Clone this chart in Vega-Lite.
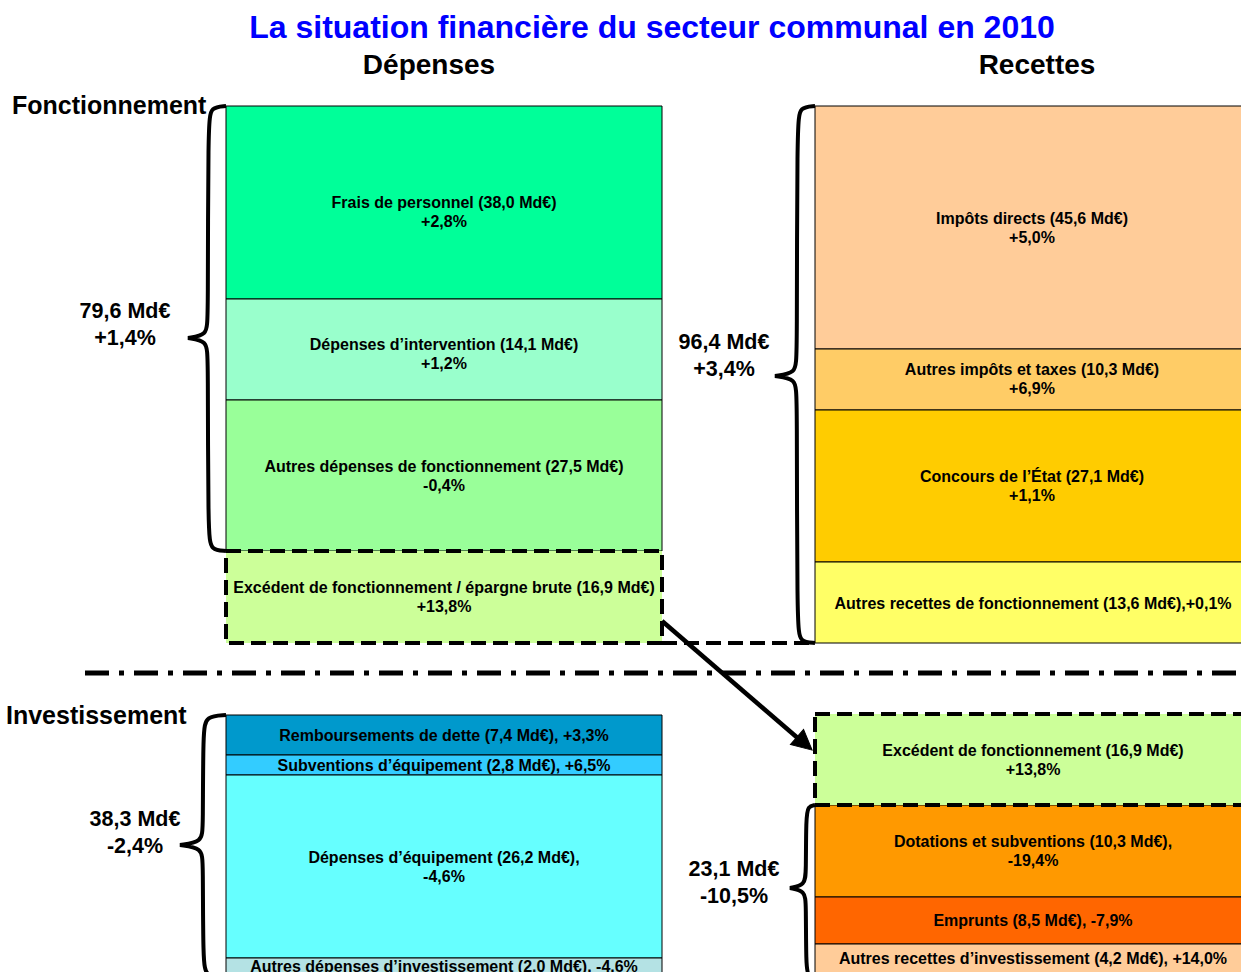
{
  "$schema": "https://vega.github.io/schema/vega-lite/v6.json",
  "width": 1241,
  "height": 972,
  "padding": 0,
  "autosize": {"type": "none"},
  "background": "white",
  "config": {"view": {"stroke": null}, "font": "Liberation Sans"},
  "datasets": {
    "blocks": [
      {"name": "Frais de personnel", "x1": 226, "x2": 662, "y1": 106, "y2": 299, "color": "#00FF99", "dashed": false, "label": "Frais de personnel (38,0 Md€)\n+2,8%", "tx": 444, "ty": 203},
      {"name": "Dépenses d’intervention", "x1": 226, "x2": 662, "y1": 299, "y2": 400, "color": "#99FFCC", "dashed": false, "label": "Dépenses d’intervention (14,1 Md€)\n+1,2%", "tx": 444, "ty": 345},
      {"name": "Autres dépenses de fonctionnement", "x1": 226, "x2": 662, "y1": 400, "y2": 551, "color": "#99FF99", "dashed": false, "label": "Autres dépenses de fonctionnement (27,5 Md€)\n-0,4%", "tx": 444, "ty": 467},
      {"name": "Excédent de fonctionnement / épargne brute", "x1": 226, "x2": 662, "y1": 551, "y2": 643, "color": "#CCFF99", "dashed": true, "label": "Excédent de fonctionnement / épargne brute (16,9 Md€)\n+13,8%", "tx": 444, "ty": 588},
      {"name": "Impôts directs", "x1": 815, "x2": 1250, "y1": 106, "y2": 349, "color": "#FFCC99", "dashed": false, "label": "Impôts directs (45,6 Md€)\n+5,0%", "tx": 1032, "ty": 219},
      {"name": "Autres impôts et taxes", "x1": 815, "x2": 1250, "y1": 349, "y2": 410, "color": "#FFCC66", "dashed": false, "label": "Autres impôts et taxes (10,3 Md€)\n+6,9%", "tx": 1032, "ty": 370},
      {"name": "Concours de l’État", "x1": 815, "x2": 1250, "y1": 410, "y2": 562, "color": "#FFCC00", "dashed": false, "label": "Concours de l’État (27,1 Md€)\n+1,1%", "tx": 1032, "ty": 477},
      {"name": "Autres recettes de fonctionnement", "x1": 815, "x2": 1250, "y1": 562, "y2": 643, "color": "#FFFF66", "dashed": false, "label": "Autres recettes de fonctionnement (13,6 Md€),+0,1%", "tx": 1033, "ty": 604},
      {"name": "Remboursements de dette", "x1": 226, "x2": 662, "y1": 715, "y2": 755, "color": "#0099CC", "dashed": false, "label": "Remboursements de dette (7,4 Md€), +3,3%", "tx": 444, "ty": 736},
      {"name": "Subventions d’équipement", "x1": 226, "x2": 662, "y1": 755, "y2": 775, "color": "#33CCFF", "dashed": false, "label": "Subventions d’équipement (2,8 Md€), +6,5%", "tx": 444, "ty": 766},
      {"name": "Dépenses d’équipement", "x1": 226, "x2": 662, "y1": 775, "y2": 958, "color": "#66FFFF", "dashed": false, "label": "Dépenses d’équipement (26,2 Md€),\n-4,6%", "tx": 444, "ty": 858},
      {"name": "Autres dépenses d’investissement", "x1": 226, "x2": 662, "y1": 958, "y2": 1000, "color": "#B4E2E4", "dashed": false, "label": "Autres dépenses d’investissement (2,0 Md€), -4,6%", "tx": 444, "ty": 967},
      {"name": "Excédent de fonctionnement", "x1": 815, "x2": 1250, "y1": 714, "y2": 805, "color": "#CCFF99", "dashed": true, "label": "Excédent de fonctionnement (16,9 Md€)\n+13,8%", "tx": 1033, "ty": 751},
      {"name": "Dotations et subventions", "x1": 815, "x2": 1250, "y1": 805, "y2": 897, "color": "#FF9900", "dashed": false, "label": "Dotations et subventions (10,3 Md€),\n-19,4%", "tx": 1033, "ty": 842},
      {"name": "Emprunts", "x1": 815, "x2": 1250, "y1": 897, "y2": 944, "color": "#FF6600", "dashed": false, "label": "Emprunts (8,5 Md€), -7,9%", "tx": 1033, "ty": 921},
      {"name": "Autres recettes d’investissement", "x1": 815, "x2": 1250, "y1": 944, "y2": 1000, "color": "#FFCC99", "dashed": false, "label": "Autres recettes d’investissement (4,2 Md€), +14,0%", "tx": 1033, "ty": 959}
    ],
    "braces": [
      {"b": "A", "i": 0, "x": 226, "y": 106}, {"b": "A", "i": 1, "x": 211, "y": 107}, {"b": "A", "i": 2, "x": 208, "y": 122}, {"b": "A", "i": 3, "x": 208, "y": 320}, {"b": "A", "i": 4, "x": 207, "y": 335}, {"b": "A", "i": 5, "x": 188, "y": 338}, {"b": "A", "i": 6, "x": 188, "y": 338}, {"b": "A", "i": 7, "x": 188, "y": 338}, {"b": "A", "i": 8, "x": 207, "y": 341}, {"b": "A", "i": 9, "x": 208, "y": 356}, {"b": "A", "i": 10, "x": 208, "y": 535}, {"b": "A", "i": 11, "x": 211, "y": 550}, {"b": "A", "i": 12, "x": 226, "y": 551},
      {"b": "B", "i": 0, "x": 815, "y": 106}, {"b": "B", "i": 1, "x": 800, "y": 107}, {"b": "B", "i": 2, "x": 797, "y": 122}, {"b": "B", "i": 3, "x": 797, "y": 358}, {"b": "B", "i": 4, "x": 796, "y": 373}, {"b": "B", "i": 5, "x": 775, "y": 376}, {"b": "B", "i": 6, "x": 775, "y": 376}, {"b": "B", "i": 7, "x": 775, "y": 376}, {"b": "B", "i": 8, "x": 796, "y": 379}, {"b": "B", "i": 9, "x": 797, "y": 394}, {"b": "B", "i": 10, "x": 797, "y": 627}, {"b": "B", "i": 11, "x": 800, "y": 642}, {"b": "B", "i": 12, "x": 815, "y": 643},
      {"b": "C", "i": 0, "x": 226, "y": 715}, {"b": "C", "i": 1, "x": 206, "y": 716}, {"b": "C", "i": 2, "x": 203, "y": 731}, {"b": "C", "i": 3, "x": 203, "y": 828}, {"b": "C", "i": 4, "x": 202, "y": 842}, {"b": "C", "i": 5, "x": 180, "y": 845}, {"b": "C", "i": 6, "x": 180, "y": 845}, {"b": "C", "i": 7, "x": 180, "y": 845}, {"b": "C", "i": 8, "x": 202, "y": 848}, {"b": "C", "i": 9, "x": 203, "y": 862}, {"b": "C", "i": 10, "x": 203, "y": 962}, {"b": "C", "i": 11, "x": 206, "y": 977}, {"b": "C", "i": 12, "x": 226, "y": 978},
      {"b": "D", "i": 0, "x": 815, "y": 805}, {"b": "D", "i": 1, "x": 808, "y": 806}, {"b": "D", "i": 2, "x": 806, "y": 818}, {"b": "D", "i": 3, "x": 806, "y": 872}, {"b": "D", "i": 4, "x": 805, "y": 885}, {"b": "D", "i": 5, "x": 790, "y": 888}, {"b": "D", "i": 6, "x": 790, "y": 888}, {"b": "D", "i": 7, "x": 790, "y": 888}, {"b": "D", "i": 8, "x": 805, "y": 891}, {"b": "D", "i": 9, "x": 806, "y": 904}, {"b": "D", "i": 10, "x": 806, "y": 965}, {"b": "D", "i": 11, "x": 808, "y": 977}, {"b": "D", "i": 12, "x": 815, "y": 978}
    ],
    "braceLabels": [
      {"label": "79,6 Md€\n+1,4%", "tx": 125, "ty": 312},
      {"label": "96,4 Md€\n+3,4%", "tx": 724, "ty": 343},
      {"label": "38,3 Md€\n-2,4%", "tx": 135, "ty": 820},
      {"label": "23,1 Md€\n-10,5%", "tx": 734, "ty": 870}
    ],
    "headers": [
      {"label": "Dépenses", "tx": 429, "ty": 66},
      {"label": "Recettes", "tx": 1037, "ty": 66}
    ],
    "sections": [
      {"label": "Fonctionnement", "tx": 12, "ty": 106},
      {"label": "Investissement", "tx": 6, "ty": 716}
    ],
    "titleRow": [
      {"label": "La situation financière du secteur communal en 2010", "tx": 652, "ty": 28}
    ],
    "arrow": [
      {"i": 0, "x": 662, "y": 621},
      {"i": 1, "x": 800, "y": 740}
    ],
    "arrowHead": [
      {"x": 797, "y": 737}
    ],
    "dashRule": [
      {"x1": 662, "x2": 815, "y": 643}
    ],
    "sepRule": [
      {"x1": 85, "x2": 1241, "y": 673}
    ]
  },
  "layer": [
    {
      "data": {"name": "blocks"},
      "transform": [{"filter": "!datum.dashed"}],
      "mark": {"type": "rect", "stroke": "black", "strokeWidth": 1, "clip": true},
      "encoding": {
        "x": {"field": "x1", "type": "quantitative", "scale": {"domain": [0, 1241], "nice": false, "zero": false}, "axis": null},
        "x2": {"field": "x2"},
        "y": {"field": "y1", "type": "quantitative", "scale": {"domain": [0, 972], "nice": false, "zero": false, "reverse": true}, "axis": null},
        "y2": {"field": "y2"},
        "fill": {"field": "color", "type": "nominal", "scale": null}
      }
    },
    {
      "data": {"name": "blocks"},
      "transform": [{"filter": "datum.dashed"}],
      "mark": {"type": "rect", "stroke": "black", "strokeWidth": 4, "strokeDash": [15, 7], "clip": true},
      "encoding": {
        "x": {"field": "x1", "type": "quantitative"},
        "x2": {"field": "x2"},
        "y": {"field": "y1", "type": "quantitative"},
        "y2": {"field": "y2"},
        "fill": {"field": "color", "type": "nominal", "scale": null}
      }
    },
    {
      "data": {"name": "dashRule"},
      "mark": {"type": "rule", "stroke": "black", "strokeWidth": 4, "strokeDash": [15, 7]},
      "encoding": {
        "x": {"field": "x1", "type": "quantitative"},
        "x2": {"field": "x2"},
        "y": {"field": "y", "type": "quantitative"}
      }
    },
    {
      "data": {"name": "sepRule"},
      "mark": {"type": "rule", "stroke": "black", "strokeWidth": 5, "strokeDash": [24, 10, 5, 10]},
      "encoding": {
        "x": {"field": "x1", "type": "quantitative"},
        "x2": {"field": "x2"},
        "y": {"field": "y", "type": "quantitative"}
      }
    },
    {
      "data": {"name": "braces"},
      "mark": {"type": "line", "interpolate": "basis", "stroke": "black", "strokeWidth": 4, "clip": true},
      "encoding": {
        "x": {"field": "x", "type": "quantitative"},
        "y": {"field": "y", "type": "quantitative"},
        "detail": {"field": "b", "type": "nominal"},
        "order": {"field": "i", "type": "quantitative"}
      }
    },
    {
      "data": {"name": "arrow"},
      "mark": {"type": "line", "stroke": "black", "strokeWidth": 4.5},
      "encoding": {
        "x": {"field": "x", "type": "quantitative"},
        "y": {"field": "y", "type": "quantitative"},
        "order": {"field": "i", "type": "quantitative"}
      }
    },
    {
      "data": {"name": "arrowHead"},
      "mark": {"type": "point", "shape": "M0,-1L0.5,0L-0.5,0Z", "filled": true, "fill": "black", "stroke": "black", "strokeWidth": 1, "size": 1600, "opacity": 1, "angle": 131},
      "encoding": {
        "x": {"field": "x", "type": "quantitative"},
        "y": {"field": "y", "type": "quantitative"}
      }
    },
    {
      "data": {"name": "blocks"},
      "mark": {"type": "text", "font": "Liberation Sans", "fontWeight": "bold", "fontSize": 16, "lineHeight": 19, "lineBreak": "\n", "align": "center", "baseline": "middle", "color": "black"},
      "encoding": {
        "x": {"field": "tx", "type": "quantitative"},
        "y": {"field": "ty", "type": "quantitative"},
        "text": {"field": "label", "type": "nominal"}
      }
    },
    {
      "data": {"name": "braceLabels"},
      "mark": {"type": "text", "font": "Liberation Sans", "fontWeight": "bold", "fontSize": 21.5, "lineHeight": 27, "lineBreak": "\n", "align": "center", "baseline": "middle", "color": "black"},
      "encoding": {
        "x": {"field": "tx", "type": "quantitative"},
        "y": {"field": "ty", "type": "quantitative"},
        "text": {"field": "label", "type": "nominal"}
      }
    },
    {
      "data": {"name": "headers"},
      "mark": {"type": "text", "font": "Liberation Sans", "fontWeight": "bold", "fontSize": 28, "align": "center", "baseline": "middle", "color": "black"},
      "encoding": {
        "x": {"field": "tx", "type": "quantitative"},
        "y": {"field": "ty", "type": "quantitative"},
        "text": {"field": "label", "type": "nominal"}
      }
    },
    {
      "data": {"name": "sections"},
      "mark": {"type": "text", "font": "Liberation Sans", "fontWeight": "bold", "fontSize": 25, "align": "left", "baseline": "middle", "color": "black"},
      "encoding": {
        "x": {"field": "tx", "type": "quantitative"},
        "y": {"field": "ty", "type": "quantitative"},
        "text": {"field": "label", "type": "nominal"}
      }
    },
    {
      "data": {"name": "titleRow"},
      "mark": {"type": "text", "font": "Liberation Sans", "fontWeight": "bold", "fontSize": 32, "align": "center", "baseline": "middle", "color": "#0000FF"},
      "encoding": {
        "x": {"field": "tx", "type": "quantitative"},
        "y": {"field": "ty", "type": "quantitative"},
        "text": {"field": "label", "type": "nominal"}
      }
    }
  ]
}
